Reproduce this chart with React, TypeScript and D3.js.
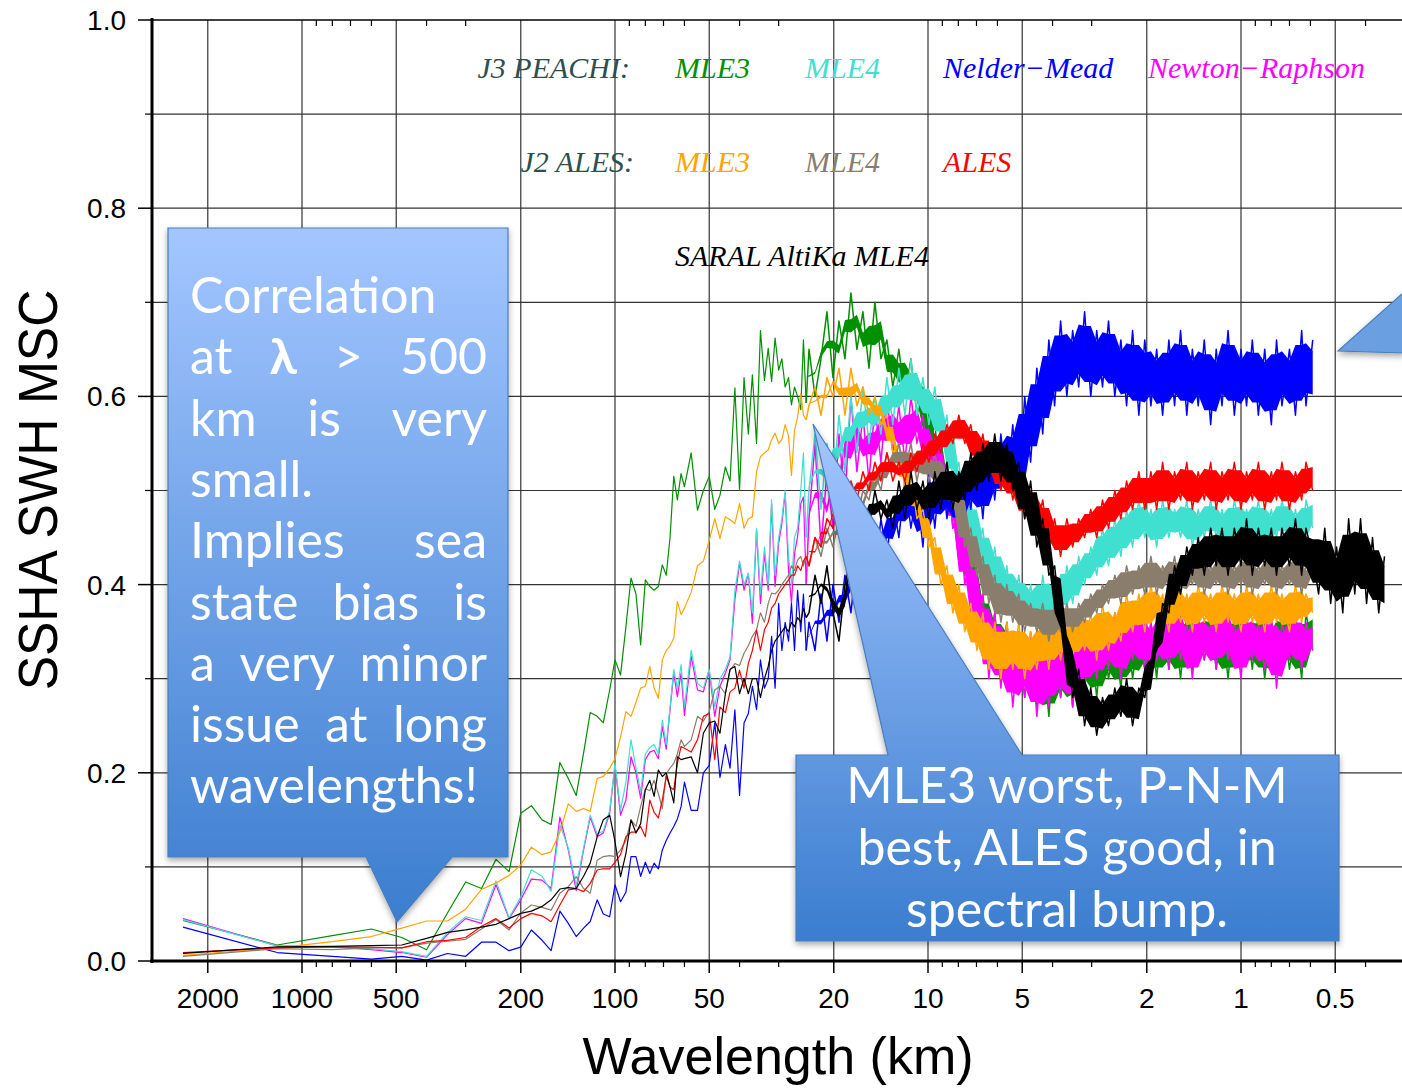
import React, { useEffect, useRef } from "react";
import * as d3 from "d3";

// wavelengths (km) of the spectral estimates, longest first
const lowWavelengths = [
  2400, 1200, 800, 600, 480, 400, 343, 300, 267, 240,
  218, 200, 185, 171, 160, 150, 141, 133, 126, 120,
  114, 109, 104, 100, 96, 92.3, 88.9, 85.7, 82.8, 80,
  77.4, 75, 72.7, 70.6, 68.6, 66.7, 64.9, 63.2, 61.5, 60,
  57.1, 54.5, 52.2, 50, 48, 46.2, 44.4, 42.9, 41.4, 40,
  38.7, 37.5, 36.4, 35.3, 34.3, 33.3, 32.4, 31.6, 30.8, 30,
  29.3, 28.6, 27.9, 27.3, 26.7, 26.1, 25.5, 25, 24.5,
];
const highWavelengths = [
  24, 22.96, 21.97, 21.03, 20.12, 19.25, 18.42, 17.63, 16.87, 16.14,
  15.44, 14.78, 14.14, 13.53, 12.95, 12.39, 11.85, 11.34, 10.85, 10.38,
  9.94, 9.51, 9.1, 8.7, 8.33, 7.97, 7.63, 7.3, 6.98, 6.68,
  6.39, 6.12, 5.85, 5.6, 5.36, 5.13, 4.91, 4.7, 4.49, 4.3,
  4.11, 3.94, 3.77, 3.6, 3.45, 3.3, 3.16, 3.02, 2.89, 2.77,
  2.65, 2.53, 2.42, 2.32, 2.22, 2.12, 2.03, 1.94, 1.86, 1.78,
  1.7, 1.63, 1.56, 1.49, 1.43, 1.37, 1.31, 1.25, 1.2, 1.15,
  1.1, 1.05, 1.0, 0.96, 0.92, 0.88, 0.84, 0.8, 0.77, 0.74,
  0.7, 0.67, 0.64, 0.62, 0.59, 0.565, 0.54, 0.517, 0.495, 0.473,
  0.453, 0.433, 0.415, 0.397, 0.38, 0.363, 0.348,
];
const wavelengths = [...lowWavelengths, ...highWavelengths];

// J3 PEACHI MLE3
const j3Mle3Low = [
  0.043, 0.017, 0.027, 0.034, 0.025, 0.012, 0.051, 0.084, 0.077, 0.108,
  0.095, 0.157, 0.165, 0.15, 0.145, 0.211, 0.194, 0.176, 0.221, 0.264,
  0.26, 0.253, 0.288, 0.32, 0.304, 0.355, 0.407, 0.39, 0.336, 0.405,
  0.398, 0.394, 0.398, 0.421, 0.41, 0.45, 0.515, 0.49, 0.518, 0.504,
  0.54, 0.479, 0.5, 0.515, 0.48, 0.495, 0.525, 0.51, 0.609, 0.5,
  0.62, 0.56, 0.623, 0.55, 0.67, 0.617, 0.651, 0.616, 0.662, 0.628,
  0.64, 0.61, 0.62, 0.591, 0.61, 0.6, 0.586, 0.66, 0.593,
];
const j3Mle3High = [
  0.65, 0.6, 0.64, 0.69, 0.62, 0.68, 0.64, 0.71, 0.65, 0.69,
  0.63, 0.7, 0.64, 0.66, 0.61, 0.65, 0.6, 0.64, 0.58, 0.61,
  0.55, 0.57, 0.51, 0.53, 0.46, 0.47, 0.41, 0.43, 0.37, 0.39,
  0.33, 0.37, 0.3, 0.36, 0.29, 0.35, 0.28, 0.34, 0.27, 0.33,
  0.26, 0.34, 0.28, 0.33, 0.27, 0.35, 0.29, 0.34, 0.28, 0.35,
  0.3, 0.34, 0.29, 0.36, 0.3, 0.35, 0.31, 0.36, 0.3, 0.37,
  0.31, 0.36, 0.3, 0.37, 0.31, 0.36, 0.32, 0.37, 0.31, 0.36,
  0.3, 0.37, 0.32, 0.36, 0.31, 0.37, 0.3, 0.36, 0.32, 0.37,
  0.31, 0.36, 0.3, 0.37, 0.33,
];

// J3 PEACHI Newton-Raphson
const j3NewtonLow = [
  0.045, 0.016, 0.015, 0.012, 0.009, 0.004, 0.028, 0.045, 0.04, 0.081,
  0.045, 0.065, 0.087, 0.086, 0.077, 0.153, 0.118, 0.075, 0.118, 0.153,
  0.132, 0.136, 0.157, 0.208, 0.155, 0.171, 0.217, 0.2, 0.173, 0.214,
  0.222, 0.224, 0.215, 0.249, 0.225, 0.267, 0.306, 0.281, 0.306, 0.261,
  0.324, 0.288, 0.286, 0.309, 0.26, 0.292, 0.306, 0.32, 0.384, 0.423,
  0.394, 0.412, 0.359, 0.458, 0.38, 0.433, 0.394, 0.486, 0.398, 0.444,
  0.465, 0.497, 0.415, 0.38, 0.433, 0.451, 0.486, 0.493, 0.401,
];
const j3NewtonHigh = [
  0.47, 0.55, 0.44, 0.52, 0.46, 0.56, 0.49, 0.6, 0.52, 0.58,
  0.51, 0.59, 0.53, 0.6, 0.54, 0.59, 0.53, 0.6, 0.55, 0.58,
  0.52, 0.56, 0.5, 0.53, 0.46, 0.48, 0.4, 0.43, 0.35, 0.39,
  0.3, 0.37, 0.29, 0.36, 0.27, 0.34, 0.28, 0.35, 0.26, 0.33,
  0.27, 0.34, 0.28, 0.35, 0.27, 0.34, 0.29, 0.36, 0.3, 0.35,
  0.31, 0.37, 0.3, 0.36, 0.32, 0.37, 0.31, 0.36, 0.32, 0.37,
  0.31, 0.38, 0.32, 0.36, 0.3, 0.37, 0.32, 0.36, 0.31, 0.38,
  0.32, 0.36, 0.3, 0.37, 0.32, 0.36, 0.31, 0.37, 0.29, 0.36,
  0.32, 0.37, 0.31, 0.36, 0.33,
];

// J3 PEACHI MLE4
const j3Mle4Low = [
  0.044, 0.016, 0.015, 0.013, 0.01, 0.005, 0.03, 0.047, 0.043, 0.085,
  0.046, 0.068, 0.097, 0.09, 0.074, 0.145, 0.12, 0.08, 0.12, 0.155,
  0.135, 0.138, 0.16, 0.21, 0.16, 0.19, 0.235, 0.205, 0.18, 0.22,
  0.227, 0.23, 0.22, 0.256, 0.23, 0.27, 0.31, 0.29, 0.315, 0.27,
  0.33, 0.295, 0.29, 0.31, 0.27, 0.3, 0.31, 0.323, 0.394, 0.425,
  0.4, 0.412, 0.37, 0.46, 0.39, 0.44, 0.4, 0.49, 0.41, 0.45,
  0.47, 0.5, 0.43, 0.4, 0.45, 0.46, 0.5, 0.54, 0.45,
];
const j3Mle4High = [
  0.5, 0.56, 0.48, 0.55, 0.5, 0.58, 0.52, 0.6, 0.54, 0.61,
  0.55, 0.6, 0.56, 0.62, 0.57, 0.63, 0.58, 0.64, 0.58, 0.62,
  0.57, 0.61, 0.55, 0.58, 0.51, 0.53, 0.47, 0.49, 0.43, 0.46,
  0.4, 0.44, 0.38, 0.42, 0.37, 0.41, 0.36, 0.4, 0.35, 0.41,
  0.36, 0.4, 0.37, 0.42, 0.38, 0.43, 0.4, 0.44, 0.41, 0.46,
  0.42, 0.47, 0.43, 0.48, 0.44, 0.49, 0.45, 0.48, 0.44, 0.49,
  0.45, 0.48, 0.45, 0.49, 0.44, 0.48, 0.45, 0.49, 0.45, 0.48,
  0.44, 0.49, 0.45, 0.48, 0.45, 0.49, 0.44, 0.48, 0.45, 0.49,
  0.45, 0.48, 0.44, 0.49, 0.46,
];

// J3 PEACHI Nelder-Mead
const j3NelderLow = [
  0.036, 0.009, 0.005, 0.002, 0.005, 0.001, 0.008, 0.005, 0.02, 0.02,
  0.011, 0.0147, 0.033, 0.022, 0.011, 0.053, 0.04, 0.026, 0.035, 0.042,
  0.065, 0.05, 0.047, 0.081, 0.063, 0.073, 0.111, 0.111, 0.09, 0.105,
  0.093, 0.104, 0.098, 0.118, 0.128, 0.136, 0.143, 0.151, 0.164, 0.19,
  0.16, 0.16, 0.2, 0.208, 0.253, 0.195, 0.23, 0.205, 0.267, 0.176,
  0.253, 0.263, 0.292, 0.267, 0.32, 0.29, 0.3, 0.345, 0.29, 0.38,
  0.33, 0.36, 0.34, 0.38, 0.33, 0.394, 0.35, 0.39, 0.33,
];
const j3NelderHigh = [
  0.36, 0.33, 0.39, 0.34, 0.4, 0.36, 0.41, 0.37, 0.43, 0.39,
  0.44, 0.41, 0.47, 0.43, 0.49, 0.45, 0.51, 0.46, 0.5, 0.44,
  0.52, 0.46, 0.53, 0.47, 0.52, 0.46, 0.53, 0.48, 0.54, 0.47,
  0.55, 0.49, 0.56, 0.5, 0.57, 0.49, 0.6, 0.53, 0.63, 0.56,
  0.66, 0.59, 0.68, 0.6, 0.67, 0.61, 0.69, 0.6, 0.67, 0.61,
  0.68, 0.6, 0.66, 0.59, 0.67, 0.58, 0.66, 0.59, 0.65, 0.58,
  0.66, 0.59, 0.67, 0.58, 0.65, 0.59, 0.66, 0.57, 0.65, 0.59,
  0.67, 0.58, 0.65, 0.59, 0.66, 0.58, 0.65, 0.57, 0.66, 0.59,
  0.65, 0.58, 0.67, 0.59, 0.66,
];

// J2 ALES MLE3
const j2Mle3Low = [
  0.006, 0.014, 0.0205, 0.026, 0.035, 0.0425, 0.0425, 0.055, 0.076, 0.083,
  0.091, 0.102, 0.121, 0.113, 0.116, 0.137, 0.167, 0.159, 0.162, 0.159,
  0.194, 0.196, 0.205, 0.215, 0.238, 0.265, 0.26, 0.275, 0.29, 0.292,
  0.313, 0.29, 0.279, 0.32, 0.33, 0.335, 0.343, 0.382, 0.368, 0.375,
  0.392, 0.42, 0.425, 0.447, 0.47, 0.449, 0.472, 0.469, 0.465, 0.486,
  0.46, 0.47, 0.472, 0.52, 0.536, 0.54, 0.543, 0.554, 0.561, 0.55,
  0.554, 0.57, 0.558, 0.516, 0.564, 0.578, 0.603, 0.58, 0.575,
];
const j2Mle3High = [
  0.59, 0.61, 0.58, 0.62, 0.6, 0.63, 0.58, 0.63, 0.59, 0.61,
  0.58, 0.6, 0.57, 0.58, 0.54, 0.55, 0.5, 0.52, 0.47, 0.48,
  0.44, 0.45, 0.4, 0.42, 0.37, 0.4, 0.35, 0.38, 0.33, 0.37,
  0.31, 0.36, 0.3, 0.36, 0.31, 0.36, 0.3, 0.35, 0.31, 0.36,
  0.31, 0.37, 0.32, 0.36, 0.32, 0.37, 0.33, 0.37, 0.32, 0.38,
  0.33, 0.37, 0.34, 0.39, 0.35, 0.39, 0.35, 0.4, 0.36, 0.39,
  0.35, 0.4, 0.36, 0.39, 0.35, 0.4, 0.36, 0.39, 0.35, 0.4,
  0.36, 0.39, 0.35, 0.4, 0.36, 0.39, 0.35, 0.4, 0.36, 0.39,
  0.35, 0.4, 0.36, 0.39, 0.37,
];

// J2 ALES MLE4
const j2Mle4Low = [
  0.005, 0.013, 0.012, 0.014, 0.014, 0.019, 0.021, 0.023, 0.034, 0.044,
  0.033, 0.051, 0.0595, 0.057, 0.054, 0.072, 0.079, 0.0896, 0.077, 0.072,
  0.107, 0.111, 0.112, 0.111, 0.118, 0.128, 0.15, 0.143, 0.164, 0.183,
  0.181, 0.192, 0.178, 0.162, 0.199, 0.205, 0.21, 0.22, 0.235, 0.228,
  0.235, 0.26, 0.255, 0.265, 0.288, 0.292, 0.284, 0.309, 0.316, 0.314,
  0.327, 0.335, 0.345, 0.352, 0.37, 0.36, 0.38, 0.391, 0.39, 0.394,
  0.4, 0.405, 0.41, 0.42, 0.415, 0.426, 0.43, 0.42, 0.43,
];
const j2Mle4High = [
  0.42, 0.45, 0.43, 0.46, 0.44, 0.47, 0.46, 0.49, 0.47, 0.5,
  0.49, 0.52, 0.5, 0.54, 0.52, 0.55, 0.52, 0.55, 0.51, 0.54,
  0.51, 0.54, 0.5, 0.53, 0.48, 0.5, 0.44, 0.46, 0.41, 0.43,
  0.38, 0.41, 0.36, 0.4, 0.36, 0.39, 0.35, 0.38, 0.35, 0.38,
  0.34, 0.38, 0.35, 0.38, 0.35, 0.38, 0.36, 0.39, 0.37, 0.4,
  0.38, 0.41, 0.38, 0.42, 0.39, 0.42, 0.39, 0.43, 0.39, 0.42,
  0.4, 0.43, 0.39, 0.42, 0.4, 0.43, 0.39, 0.42, 0.4, 0.43,
  0.39, 0.42, 0.4, 0.43, 0.39, 0.42, 0.4, 0.43, 0.39, 0.42,
  0.4, 0.43, 0.39, 0.42, 0.41,
];

// J2 ALES retracker
const j2AlesLow = [
  0.009, 0.014, 0.015, 0.0146, 0.014, 0.0205, 0.022, 0.025, 0.037, 0.045,
  0.035, 0.045, 0.0506, 0.048, 0.0418, 0.0595, 0.0755, 0.077, 0.0737, 0.0825,
  0.0967, 0.098, 0.098, 0.105, 0.113, 0.132, 0.137, 0.137, 0.143, 0.132,
  0.171, 0.158, 0.152, 0.171, 0.196, 0.185, 0.182, 0.21, 0.228, 0.226,
  0.222, 0.235, 0.26, 0.263, 0.214, 0.27, 0.264, 0.286, 0.29, 0.309,
  0.29, 0.316, 0.33, 0.352, 0.33, 0.352, 0.36, 0.375, 0.38, 0.39,
  0.395, 0.4, 0.405, 0.41, 0.41, 0.42, 0.415, 0.425, 0.43,
];
const j2AlesHigh = [
  0.42, 0.45, 0.44, 0.47, 0.46, 0.49, 0.48, 0.51, 0.49, 0.52,
  0.5, 0.53, 0.51, 0.54, 0.51, 0.53, 0.51, 0.54, 0.52, 0.55,
  0.53, 0.56, 0.54, 0.57, 0.55, 0.58, 0.55, 0.57, 0.53, 0.56,
  0.52, 0.54, 0.5, 0.53, 0.49, 0.52, 0.47, 0.5, 0.46, 0.49,
  0.44, 0.47, 0.43, 0.47, 0.44, 0.47, 0.45, 0.48, 0.45, 0.49,
  0.46, 0.5, 0.47, 0.51, 0.48, 0.52, 0.48, 0.52, 0.48, 0.53,
  0.48, 0.52, 0.49, 0.53, 0.48, 0.52, 0.49, 0.53, 0.48, 0.52,
  0.49, 0.53, 0.48, 0.52, 0.49, 0.53, 0.48, 0.52, 0.49, 0.53,
  0.48, 0.52, 0.49, 0.53, 0.5,
];

// SARAL AltiKa MLE4
const saralLow = [
  0.008, 0.015, 0.0155, 0.0163, 0.017, 0.024, 0.0305, 0.033, 0.036, 0.039,
  0.045, 0.0506, 0.053, 0.058, 0.065, 0.0765, 0.078, 0.077, 0.09, 0.104,
  0.132, 0.15, 0.155, 0.127, 0.0896, 0.114, 0.15, 0.136, 0.146, 0.182,
  0.192, 0.175, 0.203, 0.196, 0.2, 0.185, 0.168, 0.217, 0.214, 0.215,
  0.217, 0.2, 0.242, 0.253, 0.255, 0.242, 0.284, 0.31, 0.313, 0.284,
  0.3, 0.284, 0.3, 0.3, 0.28, 0.3, 0.313, 0.33, 0.34, 0.345,
  0.35, 0.355, 0.35, 0.36, 0.355, 0.365, 0.36, 0.375, 0.365,
];
const saralHigh = [
  0.37, 0.41, 0.38, 0.42, 0.37, 0.34, 0.4, 0.43, 0.45, 0.48,
  0.46, 0.5, 0.47, 0.49, 0.46, 0.51, 0.47, 0.52, 0.48, 0.51,
  0.47, 0.52, 0.48, 0.53, 0.48, 0.52, 0.49, 0.54, 0.5, 0.55,
  0.51, 0.56, 0.51, 0.55, 0.5, 0.53, 0.47, 0.51, 0.44, 0.47,
  0.41, 0.42, 0.36, 0.34, 0.28, 0.31, 0.25, 0.29, 0.24, 0.28,
  0.25, 0.29, 0.26, 0.3, 0.25, 0.29, 0.28, 0.32, 0.33, 0.38,
  0.37, 0.42, 0.39, 0.44, 0.41, 0.45, 0.41, 0.46, 0.42, 0.46,
  0.41, 0.46, 0.42, 0.47, 0.41, 0.46, 0.42, 0.46, 0.41, 0.46,
  0.42, 0.47, 0.41, 0.46, 0.43, 0.39, 0.46, 0.38, 0.44, 0.37,
  0.47, 0.39, 0.47, 0.38, 0.45, 0.37, 0.43,
];

const seriesNames = ["J3 MLE3", "J3 Newton-Raphson", "J3 MLE4", "J3 Nelder-Mead", "J2 MLE3", "J2 MLE4", "J2 ALES", "SARAL MLE4"];
const seriesColors = ["#009000", "#ff00ff", "#40e0d0", "#0000ff", "#ffa500", "#8b7d6b", "#ff0000", "#000000"];
const seriesValues = [
  [...j3Mle3Low, ...j3Mle3High],
  [...j3NewtonLow, ...j3NewtonHigh],
  [...j3Mle4Low, ...j3Mle4High],
  [...j3NelderLow, ...j3NelderHigh],
  [...j2Mle3Low, ...j2Mle3High],
  [...j2Mle4Low, ...j2Mle4High],
  [...j2AlesLow, ...j2AlesHigh],
  [...saralLow, ...saralHigh],
];

const majorTicks = [2000, 1000, 500, 200, 100, 50, 20, 10, 5, 2, 1, 0.5];
const majorTickLabels = ["2000", "1000", "500", "200", "100", "50", "20", "10", "5", "2", "1", "0.5"];
const minorTicks = [900, 800, 700, 600, 400, 300, 90, 80, 70, 60, 40, 30, 9, 8, 7, 6, 4, 3, 0.9, 0.8, 0.7, 0.6, 0.4];
const yTicks = [0, 0.2, 0.4, 0.6, 0.8, 1.0];
const yMinorTicks = [0.1, 0.3, 0.5, 0.7, 0.9];

const legendRow1 = ["J3 PEACHI:", "MLE3", "MLE4", "Nelder\u2212Mead", "Newton\u2212Raphson"];
const legendRow1Colors = ["#2f4f4f", "#009000", "#40e0d0", "#0000ff", "#ff00ff"];
const legendRow2 = ["J2 ALES:", "MLE3", "MLE4", "ALES"];
const legendRow2Colors = ["#2f4f4f", "#ffa500", "#8b7d6b", "#ff0000"];
const legendRow3 = ["SARAL AltiKa MLE4"];

const leftNote = ["Correlation", "at λ > 500", "km is very", "small.", "Implies sea", "state bias is", "a very minor", "issue at long", "wavelengths!"];
const leftNoteJustify = [false, true, true, false, true, true, true, true, false];
const bumpNote = ["MLE3 worst, P-N-M", "best, ALES good, in", "spectral bump."];

export default function App() {
  const noteRef = useRef<SVGGElement>(null);

  const W = 1402;
  const H = 1088;
  const left = 152;
  const top = 20;
  const bottom = 961;
  const right = 1402;

  const x = d3.scaleLog().domain([1000, 1]).range([302, 1241]);
  const y = d3.scaleLinear().domain([0, 1]).range([bottom, top]);

  const line = d3
    .line<[number, number]>()
    .x((d) => x(d[0]))
    .y((d) => y(d[1]));

  // solid core of the noisy short-wave estimates
  const band = d3
    .area<[number, number, number]>()
    .x((d) => x(d[0]))
    .y0((d) => y(d[1]))
    .y1((d) => y(d[2]));

  // justified text of the left note
  useEffect(() => {
    if (!noteRef.current) return;
    const g = d3.select(noteRef.current);
    const layout = () => {
      g.selectAll("*").remove();
      leftNote.forEach((txt, li) => {
        const words = txt.split(" ");
        const base = 313 + li * 61.3;
        const nodes = words.map((w) =>
          g.append("text").attr("y", base).attr("font-weight", w === "λ" ? "bold" : null).text(w)
        );
        const widths = nodes.map((n) => (n.node() as SVGTextElement).getComputedTextLength());
        const total = d3.sum(widths);
        const gap = leftNoteJustify[li] && words.length > 1 ? (297 - total) / (words.length - 1) : 13;
        let cx = 190;
        nodes.forEach((n, i) => {
          n.attr("x", cx);
          cx += widths[i] + gap;
        });
      });
    };
    if ((document as any).fonts) (document as any).fonts.ready.then(layout);
    else layout();
  }, []);

  const legendX1 = [630, 675, 805, 943, 1148];
  const legendX2 = [634, 675, 805, 943];
  const nLow = lowWavelengths.length;
  // the solid core grows in over the first points of the dense part
  const rampLen = 26;

  return (
    <svg width={W} height={H} style={{ position: "absolute", left: 0, top: 0, background: "#fff" }}>
      <defs>
        <clipPath id="plot">
          <rect x={left} y={top} width={right - left} height={bottom - top} />
        </clipPath>
        <linearGradient id="gradLeft" gradientUnits="userSpaceOnUse" x1="0" y1="228" x2="0" y2="922">
          <stop offset="0" stopColor="#a3c6ff" />
          <stop offset="1" stopColor="#3b7dcf" />
        </linearGradient>
        <linearGradient id="gradBump" gradientUnits="userSpaceOnUse" x1="0" y1="424" x2="0" y2="941">
          <stop offset="0" stopColor="#a3c6ff" />
          <stop offset="1" stopColor="#3b7dcf" />
        </linearGradient>
        <filter id="shadow" x="-10%" y="-10%" width="125%" height="125%">
          <feDropShadow dx="0" dy="3" stdDeviation="3" floodColor="#000" floodOpacity="0.35" />
        </filter>
      </defs>

      {/* grid */}
      <g stroke="#333" strokeWidth={1.2}>
        {d3.range(1, 10).map((i) => (
          <line key={"h" + i} x1={left} x2={right} y1={y(i / 10)} y2={y(i / 10)} />
        ))}
        {majorTicks.map((t) => (
          <line key={"v" + t} x1={x(t)} x2={x(t)} y1={top} y2={bottom} />
        ))}
      </g>

      {/* spectra */}
      <g clipPath="url(#plot)" fill="none" strokeLinejoin="round">
        {seriesValues.map((vals, si) => {
          const pts = vals
            .map((v, i) => [wavelengths[i], v] as [number, number])
            .filter((d) => d[0] !== undefined);
          const hi = pts.slice(nLow - 1);
          const env = hi.map((p, i) => {
            const win = hi.slice(Math.max(0, i - 1), i + 2).map((q) => q[1]);
            const lo = d3.min(win) as number;
            const up = d3.max(win) as number;
            const share = 0.5 - 0.33 * Math.min(1, i / rampLen);
            const pad = (up - lo) * share;
            return [p[0], lo + pad, up - pad] as [number, number, number];
          });
          return (
            <g key={seriesNames[si]} stroke={seriesColors[si]}>
              <path d={line(pts.slice(0, nLow)) || ""} strokeWidth={1.2} />
              <path d={line(hi) || ""} strokeWidth={1.5} />
              <path d={band(env) || ""} fill={seriesColors[si]} stroke="none" />
            </g>
          );
        })}
      </g>

      {/* axes */}
      <g stroke="#000">
        <line x1={left} x2={right} y1={top} y2={top} strokeWidth={1.5} />
        <line x1={left} x2={left} y1={top - 2} y2={bottom + 2} strokeWidth={3} />
        <line x1={left - 2} x2={right} y1={bottom} y2={bottom} strokeWidth={3} />
        {majorTicks.map((t) => (
          <line key={"mt" + t} x1={x(t)} x2={x(t)} y1={bottom} y2={bottom + 12} strokeWidth={1.5} />
        ))}
        {minorTicks.map((t) => (
          <line key={"nt" + t} x1={x(t)} x2={x(t)} y1={bottom} y2={bottom + 6} strokeWidth={1.2} />
        ))}
        {minorTicks.map((t) => (
          <line key={"tt" + t} x1={x(t)} x2={x(t)} y1={top} y2={top + 6} strokeWidth={1.2} />
        ))}
        {yTicks.map((t) => (
          <line key={"yt" + t} x1={left - 14} x2={left} y1={y(t)} y2={y(t)} strokeWidth={1.5} />
        ))}
        {yMinorTicks.map((t) => (
          <line key={"ym" + t} x1={left - 7} x2={left} y1={y(t)} y2={y(t)} strokeWidth={1.2} />
        ))}
      </g>

      <g fontFamily="'Liberation Sans', Arial, sans-serif" fill="#000">
        {yTicks.map((t) => (
          <text key={"yl" + t} x={126} y={y(t) + 10} fontSize={28} textAnchor="end">
            {t.toFixed(1)}
          </text>
        ))}
        {majorTicks.map((t, i) => (
          <text key={"xl" + t} x={x(t)} y={1008} fontSize={28} textAnchor="middle">
            {majorTickLabels[i]}
          </text>
        ))}
        <text x={778} y={1074} fontSize={52} textAnchor="middle">
          Wavelength (km)
        </text>
        <text transform="translate(57,490) rotate(-90) scale(0.92,1)" fontSize={56} textAnchor="middle">
          SSHA SWH MSC
        </text>
      </g>

      {/* legend */}
      <g fontFamily="'Liberation Serif', 'Times New Roman', serif" fontStyle="italic" fontSize={30}>
        {legendRow1.map((s, i) => (
          <text key={"l1" + i} x={legendX1[i]} y={78} fill={legendRow1Colors[i]} textAnchor={i === 0 ? "end" : "start"}>
            {s}
          </text>
        ))}
        {legendRow2.map((s, i) => (
          <text key={"l2" + i} x={legendX2[i]} y={172} fill={legendRow2Colors[i]} textAnchor={i === 0 ? "end" : "start"}>
            {s}
          </text>
        ))}
        <text x={675} y={266} fill="#000">
          {legendRow3[0]}
        </text>
      </g>

      {/* callouts */}
      <g stroke="#4a7ebb" strokeWidth={1.2} filter="url(#shadow)">
        <path d="M168,228 H508 V857 H452 L397,922 L366,857 H168 Z" fill="url(#gradLeft)" />
        <path d="M796,755 H888 L813,424 L1022,755 H1339 V941 H796 Z" fill="url(#gradBump)" />
        <path d="M1338,351 L1404,292 L1404,353 Z" fill="#6a9fe2" />
      </g>

      <g ref={noteRef} fontFamily="Lato, 'Open Sans', sans-serif" fontSize={50} fill="#fff" />

      <g fontFamily="Lato, 'Open Sans', sans-serif" fontSize={50} fill="#fff" textAnchor="middle">
        {bumpNote.map((s, i) => (
          <text key={"b" + i} x={1067} y={803 + i * 62}>
            {s}
          </text>
        ))}
      </g>
    </svg>
  );
}
